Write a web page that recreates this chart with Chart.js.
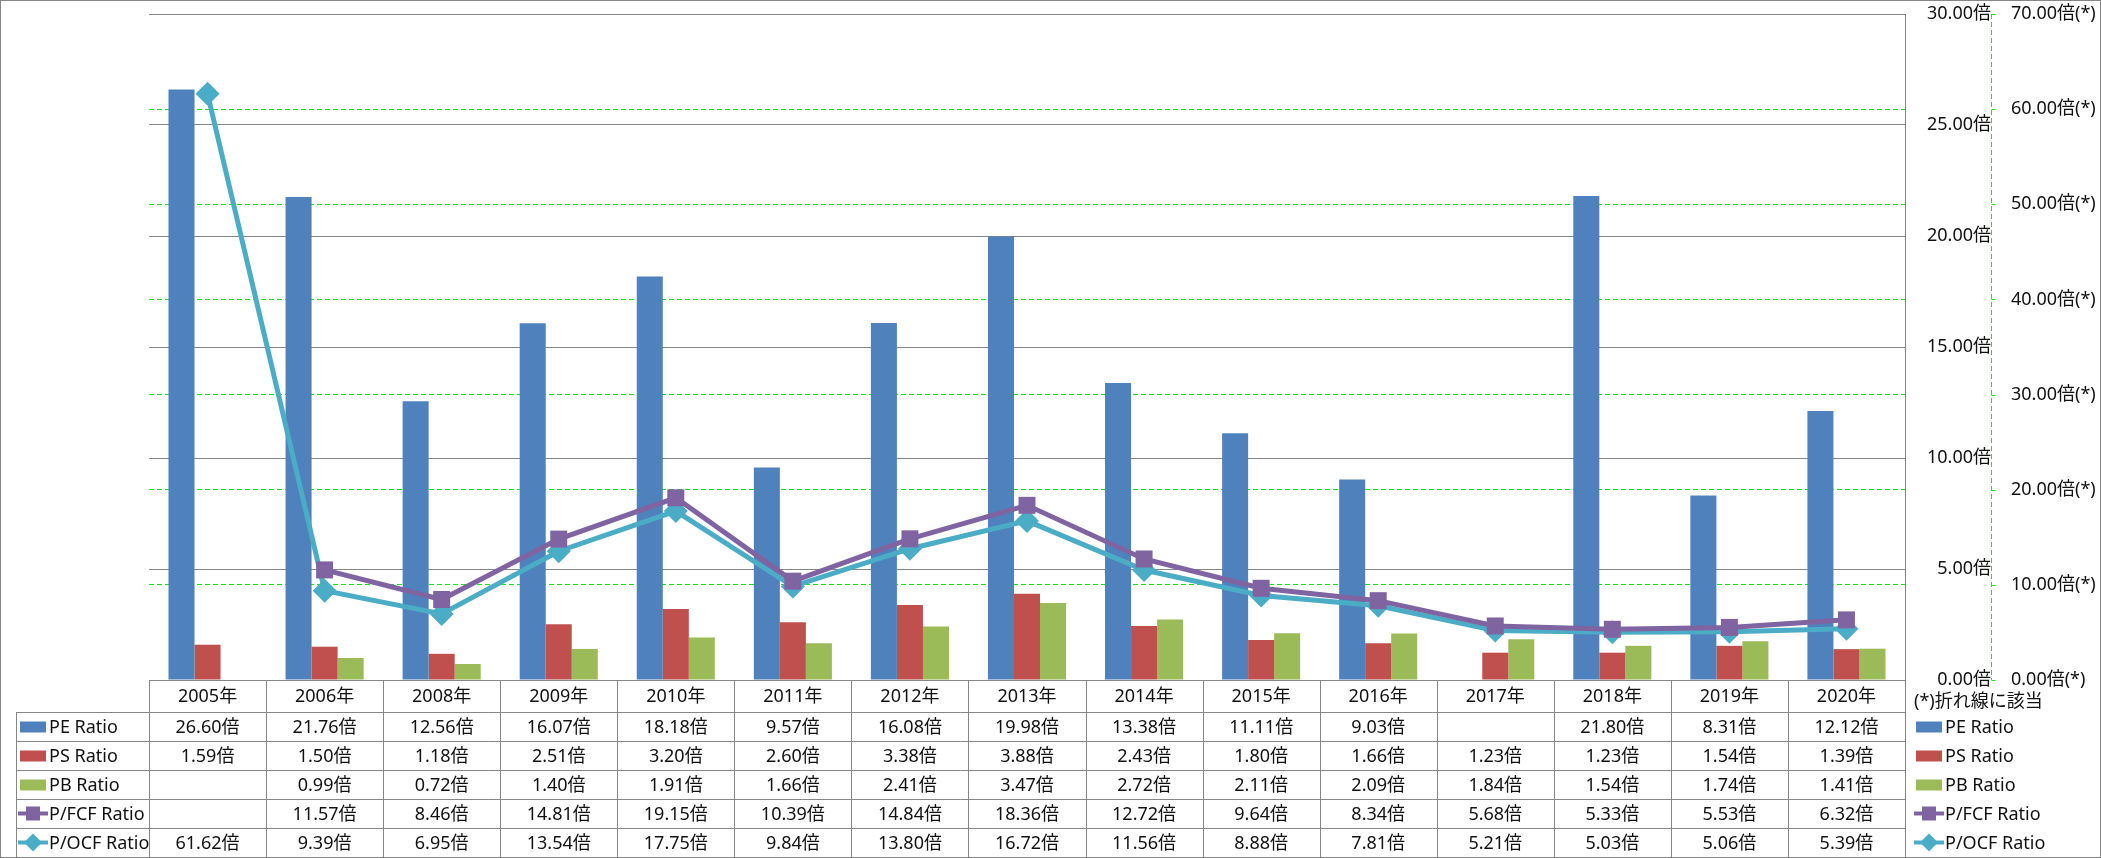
<!DOCTYPE html>
<html>
<head>
<meta charset="utf-8">
<script src="https://cdn.jsdelivr.net/npm/chart.js@4.4.1/dist/chart.umd.min.js"></script>
<style>
  html, body { margin: 0; padding: 0; background: #fff; }
  canvas { display: block; }
</style>
</head>
<body>
<canvas id="ratioChart" width="2101" height="858"></canvas>
<script>
var years = ["2005年", "2006年", "2008年", "2009年", "2010年", "2011年", "2012年", "2013年",
  "2014年", "2015年", "2016年", "2017年", "2018年", "2019年", "2020年"];
var peRatio = [26.60, 21.76, 12.56, 16.07, 18.18, 9.57, 16.08, 19.98, 13.38, 11.11, 9.03, null, 21.80, 8.31, 12.12];
var psRatio = [1.59, 1.50, 1.18, 2.51, 3.20, 2.60, 3.38, 3.88, 2.43, 1.80, 1.66, 1.23, 1.23, 1.54, 1.39];
var pbRatio = [null, 0.99, 0.72, 1.40, 1.91, 1.66, 2.41, 3.47, 2.72, 2.11, 2.09, 1.84, 1.54, 1.74, 1.41];
var pfcfRatio = [null, 11.57, 8.46, 14.81, 19.15, 10.39, 14.84, 18.36, 12.72, 9.64, 8.34, 5.68, 5.33, 5.53, 6.32];
var pocfRatio = [61.62, 9.39, 6.95, 13.54, 17.75, 9.84, 13.80, 16.72, 11.56, 8.88, 7.81, 5.21, 5.03, 5.06, 5.39];

var FAMILY = '"Noto Sans", "Noto Sans CJK JP", sans-serif';
var FONT = "18px " + FAMILY;
var TEXT = "#111";
var GRID_GRAY = "#868686";
var GRID_GREEN = "#22dd22";

var rows = [
  { label: "PE Ratio", values: peRatio, color: "#4f81bd", kind: "bar" },
  { label: "PS Ratio", values: psRatio, color: "#c0504d", kind: "bar" },
  { label: "PB Ratio", values: pbRatio, color: "#9bbb59", kind: "bar" },
  { label: "P/FCF Ratio", values: pfcfRatio, color: "#8064a2", kind: "rect" },
  { label: "P/OCF Ratio", values: pocfRatio, color: "#4bacc6", kind: "rectRot" }
];

function fmt(v) {
  return v === null ? "" : v.toFixed(2) + "倍";
}

function drawKey(ctx, row, x, y) {
  if (row.kind === "bar") {
    ctx.fillStyle = row.color;
    ctx.fillRect(x, y - 5, 26, 11);
    return;
  }
  ctx.strokeStyle = row.color;
  ctx.lineWidth = 4;
  ctx.beginPath();
  ctx.moveTo(x - 2, y);
  ctx.lineTo(x + 28, y);
  ctx.stroke();
  ctx.fillStyle = row.color;
  ctx.beginPath();
  if (row.kind === "rect") {
    ctx.rect(x + 6, y - 7, 14, 14);
  } else {
    ctx.moveTo(x + 13, y - 9);
    ctx.lineTo(x + 22, y);
    ctx.lineTo(x + 13, y + 9);
    ctx.lineTo(x + 4, y);
    ctx.closePath();
  }
  ctx.fill();
}

var tablePlugin = {
  id: "dataTable",
  beforeDraw: function (chart) {
    var ctx = chart.ctx;
    ctx.save();
    ctx.fillStyle = "#fff";
    ctx.fillRect(0, 0, chart.width, chart.height);
    ctx.restore();
  },
  afterDraw: function (chart) {
    var ctx = chart.ctx;
    var area = chart.chartArea;
    var xs = chart.scales.x;
    var y2 = chart.scales.y2;
    var colW = (area.right - area.left) / years.length;
    var top = area.bottom;
    var lines = [top, 712, 741, 770, 799, 828, 857];
    var labelLeft = 16;

    ctx.save();
    // secondary value axis: dashed green line with short ticks
    var ax = Math.round(y2.left) + 0.5;
    ctx.strokeStyle = GRID_GREEN;
    ctx.lineWidth = 1;
    ctx.setLineDash([5, 3]);
    ctx.beginPath();
    ctx.moveTo(ax, area.top);
    ctx.lineTo(ax, area.bottom);
    ctx.stroke();
    ctx.setLineDash([]);
    ctx.beginPath();
    y2.ticks.forEach(function (t) {
      var ty = Math.round(y2.getPixelForValue(t.value)) + 0.5;
      ctx.moveTo(ax, ty);
      ctx.lineTo(ax + 4, ty);
    });
    ctx.stroke();

    // data table grid
    ctx.strokeStyle = GRID_GRAY;
    ctx.beginPath();
    ctx.moveTo(area.left, top + 0.5);
    ctx.lineTo(area.right, top + 0.5);
    for (var r = 1; r < lines.length; r++) {
      ctx.moveTo(labelLeft, lines[r] + 0.5);
      ctx.lineTo(area.right, lines[r] + 0.5);
    }
    for (var c = 0; c <= years.length; c++) {
      var vx = Math.round(area.left + c * colW) + 0.5;
      ctx.moveTo(vx, top);
      ctx.lineTo(vx, 857);
    }
    ctx.moveTo(labelLeft + 0.5, 712);
    ctx.lineTo(labelLeft + 0.5, 857);
    ctx.stroke();

    ctx.strokeRect(0.5, 0.5, chart.width - 1, chart.height - 1);

    ctx.font = FONT;
    ctx.textAlign = "center";
    ctx.textBaseline = "middle";
    for (var i = 0; i < years.length; i++) {
      var cx = xs.getPixelForValue(i);
      ctx.fillStyle = TEXT;
      ctx.fillText(years[i], cx, (lines[0] + lines[1]) / 2 + 1);
      for (var k = 0; k < rows.length; k++) {
        var cy = (lines[k + 1] + lines[k + 2]) / 2 + 1;
        ctx.fillText(fmt(rows[k].values[i]), cx, cy);
      }
    }

    // row keys in the table and the legend on the right
    for (var j = 0; j < rows.length; j++) {
      var ry = (lines[j + 1] + lines[j + 2]) / 2;
      drawKey(ctx, rows[j], 20, ry);
      drawKey(ctx, rows[j], 1916, ry);
      ctx.fillStyle = TEXT;
      ctx.textAlign = "left";
      ctx.fillText(rows[j].label, 49, ry + 1);
      ctx.fillText(rows[j].label, 1945, ry + 1);
    }
    ctx.fillText("(*)折れ線に該当", 1914, 702);
    ctx.restore();
  }
};

var barDatasets = rows.slice(0, 3).map(function (row) {
  return {
    type: "bar",
    label: row.label,
    data: row.values,
    backgroundColor: row.color,
    borderWidth: 0,
    yAxisID: "y",
    order: 2,
    categoryPercentage: 0.667,
    barPercentage: 1.0
  };
});

var lineDatasets = rows.slice(3).map(function (row) {
  return {
    type: "line",
    label: row.label,
    data: row.values,
    borderColor: row.color,
    backgroundColor: row.color,
    borderWidth: 5,
    pointStyle: row.kind,
    pointRadius: 12,
    pointBorderWidth: 0,
    pointBackgroundColor: row.color,
    tension: 0,
    fill: false,
    yAxisID: "y2",
    order: 1
  };
});

function fitAxis(width) {
  return function (s) {
    s.width = width;
    s.paddingTop = 0;
    s.paddingBottom = 0;
  };
}

new Chart(document.getElementById("ratioChart"), {
  data: {
    labels: years,
    datasets: lineDatasets.concat(barDatasets)
  },
  options: {
    responsive: false,
    animation: false,
    layout: { padding: { left: 149, top: 14, bottom: 178, right: 0 } },
    scales: {
      x: {
        display: false,
        offset: true
      },
      y: {
        position: "right",
        weight: 0,
        min: 0,
        max: 30,
        ticks: {
          stepSize: 5,
          color: TEXT,
          font: { family: FAMILY, size: 18 },
          crossAlign: "far",
          padding: 4,
          callback: function (v) { return v.toFixed(2) + "倍"; }
        },
        grid: { color: GRID_GRAY, drawTicks: false, lineWidth: 1 },
        border: { display: true, color: GRID_GRAY },
        afterFit: fitAxis(86)
      },
      y2: {
        position: "right",
        weight: 1,
        min: 0,
        max: 70,
        ticks: {
          stepSize: 10,
          color: TEXT,
          font: { family: FAMILY, size: 18 },
          padding: 20,
          callback: function (v) { return v.toFixed(2) + "倍(*)"; }
        },
        grid: {
          drawTicks: false,
          lineWidth: 1,
          color: function (ctx) {
            return (ctx.tick && (ctx.tick.value === 70 || ctx.tick.value === 0)) ? "rgba(0,0,0,0)" : GRID_GREEN;
          }
        },
        border: { display: false, dash: [5, 3] },
        afterFit: fitAxis(110)
      }
    },
    plugins: {
      legend: { display: false },
      tooltip: { enabled: false }
    }
  },
  plugins: [tablePlugin]
});
</script>
</body>
</html>
